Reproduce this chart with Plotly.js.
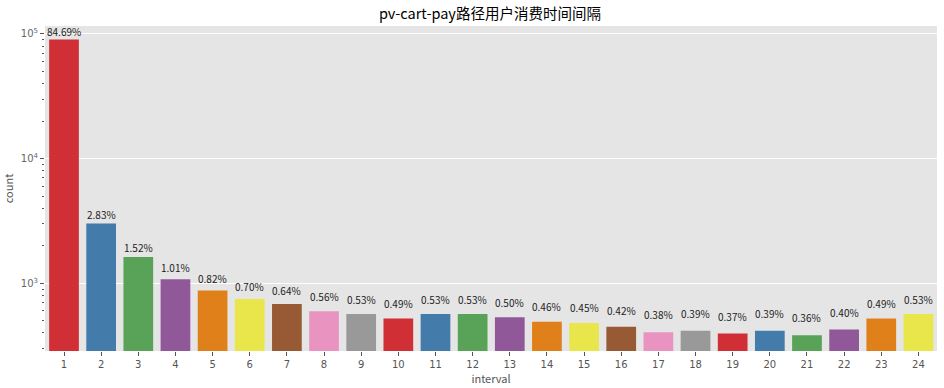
<!DOCTYPE html>
<html>
<head>
<meta charset="utf-8">
<script src="https://cdn.plot.ly/plotly-3.0.1.min.js"></script>
<style>html,body{margin:0;padding:0;background:#fff;}#chart{width:944px;height:388px;}</style>
</head>
<body>
<div id="chart"></div>
<script>
const intervals = ['1','2','3','4','5','6','7','8','9','10','11','12','13','14','15','16','17','18','19','20','21','22','23','24'];
const counts = [90370, 3020, 1622, 1078, 875, 747, 683, 598, 566, 523, 566, 566, 534, 491, 480, 448, 405, 416, 395, 416, 384, 427, 523, 566];
const pctLabels = ['84.69%','2.83%','1.52%','1.01%','0.82%','0.70%','0.64%','0.56%','0.53%','0.49%','0.53%','0.53%','0.50%','0.46%','0.45%','0.42%','0.38%','0.39%','0.37%','0.39%','0.36%','0.40%','0.49%','0.53%'];
const yTickVals = [1000, 10000, 100000];
const yTickText = ['10<sup>3</sup>', '10<sup>4</sup>', '10<sup>5</sup>'];
const palette = ['#d03035','#437bab','#58a357','#915899','#e0801b','#e8e64a','#975a35','#e994c0','#999999'];

const barColors = intervals.map((_, i) => palette[i % palette.length]);
const labelOffset = 80;
const annotations = intervals.map((c, i) => ({
  x: i, y: Math.log10(counts[i] + labelOffset), xref: 'x', yref: 'y',
  text: pctLabels[i], showarrow: false, yanchor: 'bottom', xanchor: 'center',
  yshift: -2,
  font: {family: 'Noto Sans CJK SC, DejaVu Sans', size: 10, color: '#222'}
}));

const minorVals = [];
[100, 1000, 10000].forEach(d => { for (let k = 2; k <= 9; k++) minorVals.push(k * d); });

const data = [{
  type: 'bar', x: intervals, y: counts,
  marker: {color: barColors, line: {width: 0}},
  hoverinfo: 'x+y'
}];

const layout = {
  width: 944, height: 388,
  margin: {l: 45, r: 7, t: 26, b: 37},
  paper_bgcolor: '#ffffff', plot_bgcolor: '#e5e5e5',
  bargap: 0.2,
  showlegend: false,
  title: {text: 'pv-cart-pay路径用户消费时间间隔', x: 0.519, xanchor: 'center', y: 0.965, yanchor: 'middle',
          font: {family: 'Noto Sans CJK SC', size: 14.5, color: '#000'}},
  xaxis: {
    type: 'category', showgrid: false, zeroline: false, showline: false,
    ticks: 'outside', ticklen: 4, tickcolor: '#555', tickwidth: 1,
    tickfont: {family: 'DejaVu Sans', size: 10, color: '#555'},
    title: {text: 'interval', standoff: 0, font: {family: 'Noto Sans CJK SC', size: 11, color: '#555'}}
  },
  yaxis: {
    type: 'log', range: [2.457, 5.064],
    tickmode: 'array', tickvals: yTickVals, ticktext: yTickText,
    showgrid: true, gridcolor: '#ffffff', gridwidth: 1, zeroline: false, showline: false,
    ticks: 'outside', ticklen: 4, tickcolor: '#555', tickwidth: 1,
    tickfont: {family: 'DejaVu Sans', size: 10, color: '#666'},
    minor: {tickvals: minorVals, ticks: 'outside', ticklen: 2, tickcolor: '#555', showgrid: false},
    title: {text: 'count', standoff: 5, font: {family: 'Noto Sans CJK SC', size: 11, color: '#555'}}
  },
  annotations: annotations
};

Plotly.newPlot('chart', data, layout, {displayModeBar: false, staticPlot: true});
</script>
</body>
</html>
